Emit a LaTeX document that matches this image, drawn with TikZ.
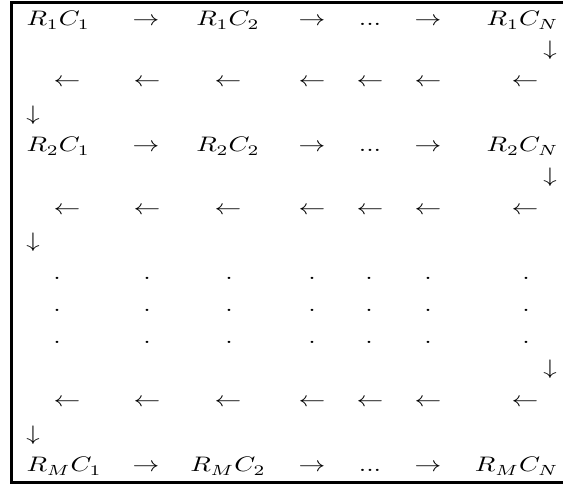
\documentclass[tikz,border=0pt]{standalone}
\begin{document}
\begin{tikzpicture}[x=0.4pt,y=-0.4pt,
  cell/.style={inner sep=0pt, xscale=1.07, yscale=0.84, font=\fontsize{10}{12}\selectfont},
  frame/.style={line width=1.2pt, line join=miter}]
\useasboundingbox (0,0) rectangle (563,485);
% frame
\draw[frame] (563,3) -- (11.7,3) -- (11.7,483) -- (563,483);
% the three full rows
\foreach \r/\lab/\yb in {1/1/26, 2/2/152, 3/M/472} {
  \node[cell, anchor=base west] (r\r c1) at (26,\yb) {$R_\lab C_1$};
  \node[cell, anchor=base] (r\r a1) at (146,\yb) {$\rightarrow$};
  \node[cell, anchor=base] (r\r c2) at (228,\yb) {$R_\lab C_2$};
  \node[cell, anchor=base] (r\r a2) at (312,\yb) {$\rightarrow$};
  \node[cell, anchor=base] (r\r dd) at (370,\yb) {...};
  \node[cell, anchor=base] (r\r a3) at (428,\yb) {$\rightarrow$};
  \node[cell, anchor=base east] (r\r cn) at (559,\yb) {$R_\lab C_N$};
}
% leftward rows
\foreach \r/\yb in {1/87, 2/215, 3/407} {
  \foreach \c/\xc in {1/67,2/147,3/228,4/312,5/370,6/428,7/525} {
    \node[cell, anchor=base] (l\r\c) at (\xc,\yb) {$\leftarrow$};
  }
}
% dotted rows
\foreach \r/\yb in {1/280, 2/312, 3/344} {
  \foreach \c/\xc in {1/57,2/147,3/229,4/312,5/369,6/428,7/526} {
    \node[cell, anchor=base] (p\r\c) at (\xc,\yb) {.};
  }
}
% down arrows on the right
\foreach \r/\yb in {1/56, 2/183, 3/375} {
  \node[cell, anchor=base] (dr\r) at (550,\yb) {$\downarrow$};
}
% down arrows on the left
\foreach \r/\yb in {1/121, 2/248, 3/441} {
  \node[cell, anchor=base] (dl\r) at (33,\yb) {$\downarrow$};
}
\end{tikzpicture}
\end{document}
